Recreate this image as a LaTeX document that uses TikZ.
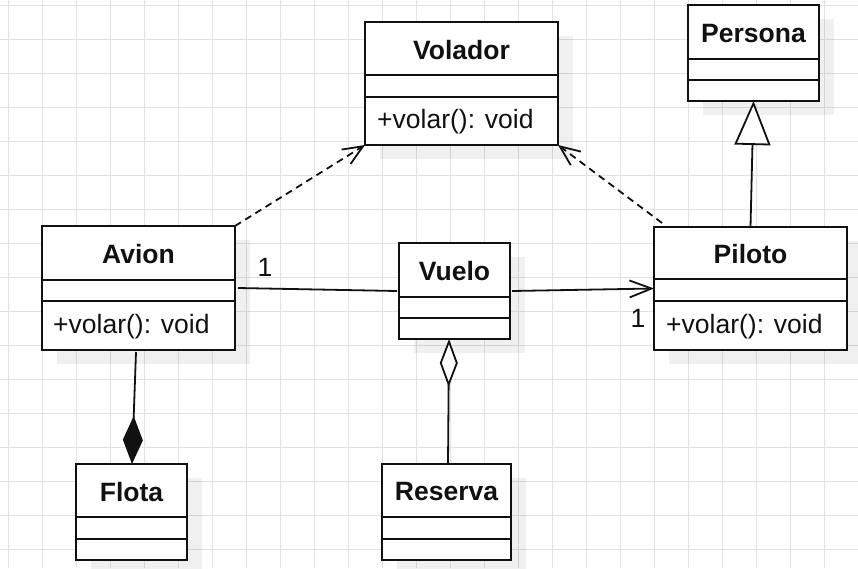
\documentclass[tikz,border=0pt]{standalone}
\usepackage{fontspec}
\setmainfont{Liberation Sans}
\usetikzlibrary{arrows.meta,calc}
\definecolor{gridc}{HTML}{E2E2E2}
\definecolor{ink}{HTML}{111111}
\newcommand\umlbox[7]{% name, x1, y1, x2, y2, divider1, divider2
  \fill[shade] (#2+15,#3+14) rectangle (#4+15,#5+14);
  \node[classbox, minimum width={(#4-#2)*1pt}, minimum height={(#5-#3)*1pt}] (#1) at (#2,#3) {};
  \draw[divider] (#2,#6) -- (#4,#6);
  \draw[divider] (#2,#7) -- (#4,#7);
}
\begin{document}
\begin{tikzpicture}[x=1pt,y=-1pt,
  classbox/.style={draw=ink, line width=2pt, fill=white, inner sep=0pt, outer sep=0pt, anchor=north west},
  divider/.style={draw=ink, line width=2pt},
  shade/.style={fill=black, opacity=0.06},
  gridline/.style={draw=gridc, line width=1pt},
  title/.style={font=\fontsize{26.5}{30}\selectfont\bfseries, text=ink, inner sep=0pt, anchor=base},
  member/.style={font=\fontsize{26.5}{30}\selectfont, text=ink, inner sep=0pt, anchor=base west},
  mult/.style={font=\fontsize{26.5}{30}\selectfont, text=ink, inner sep=0pt, anchor=base},
  link/.style={draw=ink, line width=1.8pt},
  dep/.style={link, dash pattern=on 7pt off 5pt, -{Straight Barb[length=20pt,width=17pt]}},
  nav/.style={link, -{Straight Barb[length=22pt,width=17pt]}},
  inh/.style={link, -{Triangle[length=44pt,width=36pt,fill=white]}},
  comp/.style={link, -{Diamond[length=48pt,width=20pt]}},
  aggr/.style={link, {Diamond[length=48pt,width=18pt,fill=white]}-}
]
\useasboundingbox (0,0) rectangle (858,568);
\fill[white] (0,0) rectangle (858,568);
\foreach \i in {0,...,25} \draw[gridline] (8+34*\i,0) -- (8+34*\i,568);
\foreach \j in {0,...,16} \draw[gridline] (0,5+34*\j) -- (858,5+34*\j);

% classes
\umlbox{volador}{365}{22}{558}{145}{75}{97}
\node[title] (voladorT) at (461.5,59) {Volador};
\node[member] (voladorM) at (377,128) {+volar(): void};

\umlbox{persona}{688}{5}{819}{101}{59}{80}
\node[title] (personaT) at (753.5,42) {Persona};

\umlbox{avion}{42}{226}{235}{350}{280}{301}
\node[title] (avionT) at (138.5,263) {Avion};
\node[member] (avionM) at (53,333) {+volar(): void};

\umlbox{flota}{76}{464}{187}{560}{517}{539}
\node[title] (flotaT) at (131.5,501) {Flota};

\umlbox{vuelo}{399}{243}{510}{339}{297}{318}
\node[title] (vueloT) at (454.5,280) {Vuelo};

\umlbox{reserva}{382}{464}{511}{560}{517}{539}
\node[title] (reservaT) at (446.5,500) {Reserva};

\umlbox{piloto}{654}{227}{847}{350}{279}{301}
\node[title] (pilotoT) at (750.5,263) {Piloto};
\node[member] (pilotoM) at (666,333) {+volar(): void};

% connectors
\coordinate (pilotoDep) at ($(piloto.north west)+(8,-4)$);
\draw[dep] (avion.north east) -- (volador.south west);
\draw[dep] (pilotoDep) -- (volador.south east);
\draw[inh] (piloto.north) -- (persona.south);
\draw[link] ($(avion.east)+(3,0)$) -- ($(vuelo.west)+(-2,0)$);
\draw[nav] ($(vuelo.east)+(2,0)$) -- (piloto.west);
\draw[comp] ($(avion.south)+(-2.5,2)$) -- ($(flota.north)+(0.5,0)$);
\draw[aggr] ($(vuelo.south)+(-5.5,0)$) -- ($(reserva.north)+(1.5,0)$);

% multiplicities
\node[mult] (m1) at (265,276) {1};
\node[mult] (m2) at (638,327) {1};
\end{tikzpicture}
\end{document}
